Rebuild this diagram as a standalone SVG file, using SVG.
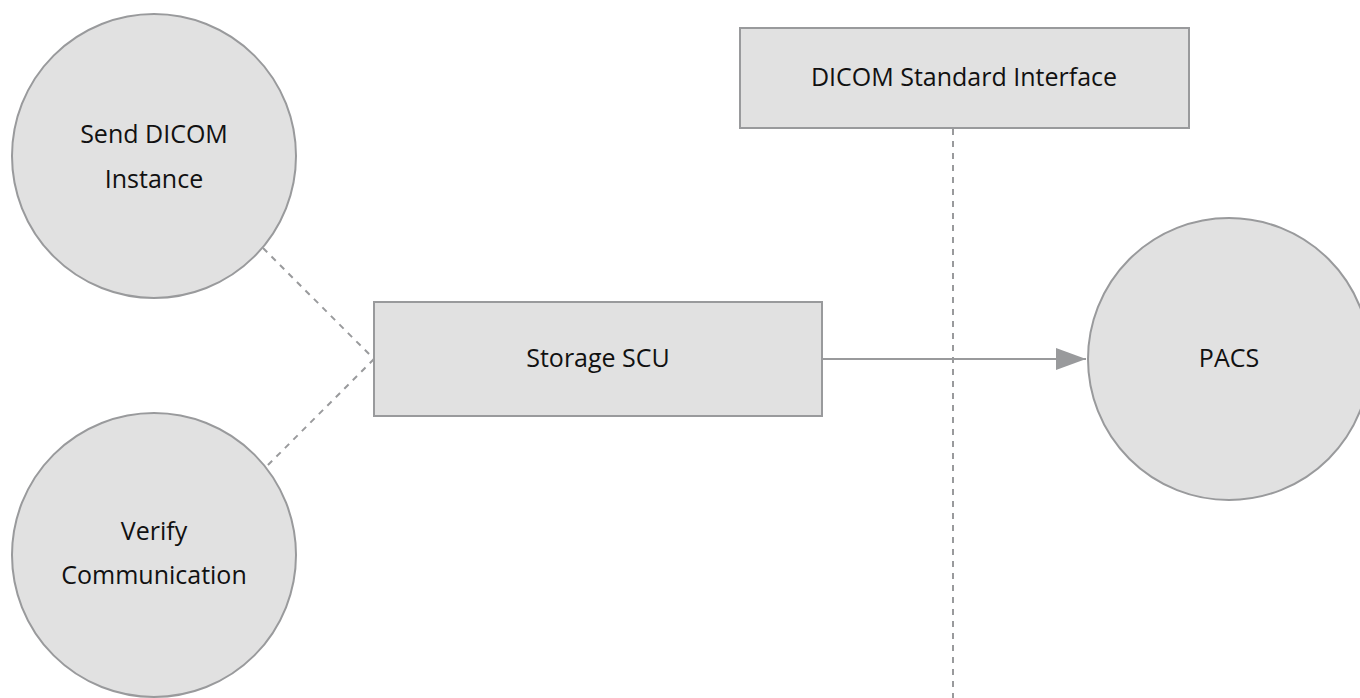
<svg xmlns="http://www.w3.org/2000/svg" width="1360" height="698" viewBox="0 0 1360 698">
<style>
.node{fill:#e1e1e1;stroke:#999a9c;stroke-width:2}
.lbl{font-family:"Open Sans","Noto Sans",sans-serif;font-size:25px;fill:#111;text-anchor:middle}
.dash{stroke:#999a9c;stroke-width:2;stroke-dasharray:6,6;fill:none}
.solid{stroke:#999a9c;stroke-width:2;fill:none}
</style>
<defs>
<marker id="arr" markerUnits="userSpaceOnUse" markerWidth="32" markerHeight="24" refX="30" refY="11" orient="auto">
<path d="M0,0 L30,11 L0,22 Z" fill="#999a9c"/>
</marker>
</defs>
<rect width="1360" height="698" fill="#fff"/>
<g id="connectors">
<line class="dash" x1="263" y1="248" x2="374" y2="359"/>
<line class="dash" x1="374" y1="359" x2="265" y2="468"/>
<line class="dash" x1="953" y1="129" x2="953" y2="698"/>
<line class="solid" x1="822" y1="359" x2="1086" y2="359" marker-end="url(#arr)"/>
</g>
<g id="send">
<circle class="node" cx="154" cy="156" r="142"/>
<text class="lbl" x="154" y="143">Send DICOM</text>
<text class="lbl" x="154" y="188">Instance</text>
</g>
<g id="verify">
<circle class="node" cx="154" cy="555" r="142"/>
<text class="lbl" x="154" y="540">Verify</text>
<text class="lbl" x="154" y="584">Communication</text>
</g>
<g id="scu">
<rect class="node" x="374" y="302" width="448" height="114"/>
<text class="lbl" x="598" y="367">Storage SCU</text>
</g>
<g id="iface">
<rect class="node" x="740" y="28" width="449" height="100"/>
<text class="lbl" x="964" y="86">DICOM Standard Interface</text>
</g>
<g id="pacs">
<circle class="node" cx="1229" cy="359" r="141"/>
<text class="lbl" x="1229" y="367">PACS</text>
</g>
</svg>
